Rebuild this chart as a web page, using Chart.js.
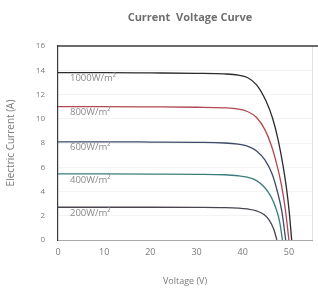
<!DOCTYPE html>
<html><head><meta charset="utf-8">
<script src="https://cdn.jsdelivr.net/npm/chart.js@4/dist/chart.umd.min.js"></script>
<style>html,body{margin:0;padding:0;background:#fff}#c{display:block}</style>
</head><body>
<canvas id="c" width="318" height="293"></canvas>
<script>
const chartTitle = "Current  Voltage Curve";
const xTitle = "Voltage (V)";
const yTitle = "Electric Current (A)";
const seriesNames = ["1000W/m²", "800W/m²", "600W/m²", "400W/m²", "200W/m²"];
const seriesColors = ["#2b2b2b", "#b0484f", "#3d4a66", "#3b7d7e", "#4a4450"];
const xTicks = [0, 10, 20, 30, 40, 50];
const yTicks = [0, 2, 4, 6, 8, 10, 12, 14, 16];

const v1000 = [0, 10, 20, 30, 36, 39, 41, 43, 45, 46.5, 47.7, 48.7, 49.5, 50.1, 50.6];
const i1000 = [13.8, 13.8, 13.78, 13.75, 13.7, 13.6, 13.4, 12.8, 11.5, 10.0, 8.2, 6.2, 4.2, 2.2, 0];
const v800 = [0, 10, 20, 30, 36, 39, 41, 43, 44.8, 46.2, 47.4, 48.4, 49.2, 50.0];
const i800 = [11.0, 11.0, 10.98, 10.95, 10.9, 10.8, 10.6, 10.1, 9.1, 7.8, 6.2, 4.5, 2.6, 0];
const v600 = [0, 10, 20, 30, 36, 39, 41, 43, 44.8, 46.3, 47.5, 48.5, 49.3];
const i600 = [8.1, 8.1, 8.08, 8.05, 8.0, 7.9, 7.75, 7.35, 6.6, 5.5, 4.0, 2.3, 0];
const v400 = [0, 10, 20, 30, 36, 39, 41, 43, 44.7, 46.1, 47.2, 48.0, 48.6];
const i400 = [5.45, 5.45, 5.44, 5.42, 5.38, 5.3, 5.18, 4.9, 4.35, 3.6, 2.6, 1.5, 0];
const v200 = [0, 10, 20, 30, 36, 39, 41, 43, 44.6, 45.8, 46.7, 47.4];
const i200 = [2.7, 2.7, 2.7, 2.69, 2.67, 2.63, 2.56, 2.4, 2.1, 1.6, 0.9, 0];

const seriesV = [v1000, v800, v600, v400, v200];
const seriesI = [i1000, i800, i600, i400, i200];

const datasets = seriesNames.map((n, k) => ({
  label: n,
  data: seriesV[k].map((v, j) => ({x: v, y: seriesI[k][j]})),
  borderColor: seriesColors[k],
  borderWidth: 1.3,
  pointRadius: 0,
  showLine: true,
  fill: false,
  cubicInterpolationMode: 'monotone'
}));

const FONT = "'Open Sans', 'Liberation Sans', sans-serif";

const overlay = {
  id: 'overlay',
  beforeDatasetsDraw(chart) {
    const ctx = chart.ctx, ca = chart.chartArea;
    ctx.save();
    ctx.strokeStyle = '#e2e2e2';
    ctx.lineWidth = 1;
    ctx.beginPath();
    ctx.moveTo(ca.right + 0.5, ca.top);
    ctx.lineTo(ca.right + 0.5, ca.bottom);
    ctx.stroke();
    ctx.strokeStyle = '#3a3a3a';
    ctx.lineWidth = 1.3;
    ctx.beginPath();
    ctx.moveTo(ca.left, ca.top);
    ctx.lineTo(chart.width, ca.top);
    ctx.stroke();
    ctx.restore();
  },
  afterDraw(chart) {
    const ctx = chart.ctx;
    const xs = chart.scales.x, ys = chart.scales.y;
    ctx.save();
    ctx.font = "bold 11px " + FONT;
    ctx.fillStyle = "#6e6e6e";
    ctx.textAlign = "center";
    ctx.textBaseline = "middle";
    ctx.fillText(chartTitle, 190, 18);
    ctx.font = "9.5px " + FONT;
    ctx.fillStyle = "#8a8a8a";
    ctx.textAlign = "left";
    chart.data.datasets.forEach((ds) => {
      const y = ys.getPixelForValue(ds.data[0].y) + 6;
      ctx.fillText(ds.label, xs.getPixelForValue(2.6), y);
    });
    ctx.restore();
  }
};

new Chart(document.getElementById('c'), {
  type: 'scatter',
  data: { datasets },
  options: {
    responsive: false,
    animation: false,
    layout: { padding: { top: 46, right: 6, left: 0, bottom: 0 } },
    plugins: { legend: { display: false }, title: { display: false }, tooltip: { enabled: false } },
    scales: {
      x: {
        type: 'linear', min: 0, max: 55,
        afterBuildTicks: s => { s.ticks = xTicks.map(v => ({value: v})); },
        afterFit: s => { s.height = 53; },
        border: { display: true, color: '#a8a8a8', width: 1 },
        grid: { display: false, drawTicks: false },
        ticks: { padding: 7, color: '#7a7a7a', font: { family: FONT, size: 9 } },
        title: { display: true, text: xTitle, color: '#7a7a7a', font: { family: FONT, size: 9 }, padding: { top: 0, bottom: 6 } }
      },
      y: {
        type: 'linear', min: 0, max: 16,
        afterBuildTicks: s => { s.ticks = yTicks.map(v => ({value: v})); },
        afterFit: s => { s.width = 58; },
        border: { display: true, color: '#3a3a3a', width: 1.2 },
        grid: { drawTicks: false, color: c => c.tick && c.tick.value === 16 ? 'rgba(0,0,0,0)' : '#f3f3f3' },
        ticks: { padding: 13, color: '#7a7a7a', font: { family: FONT, size: 8 } },
        title: { display: true, text: yTitle, color: '#7a7a7a', font: { family: FONT, size: 10 }, padding: { top: 5, bottom: 0 } }
      }
    }
  },
  plugins: [overlay]
});
</script>
</body></html>
